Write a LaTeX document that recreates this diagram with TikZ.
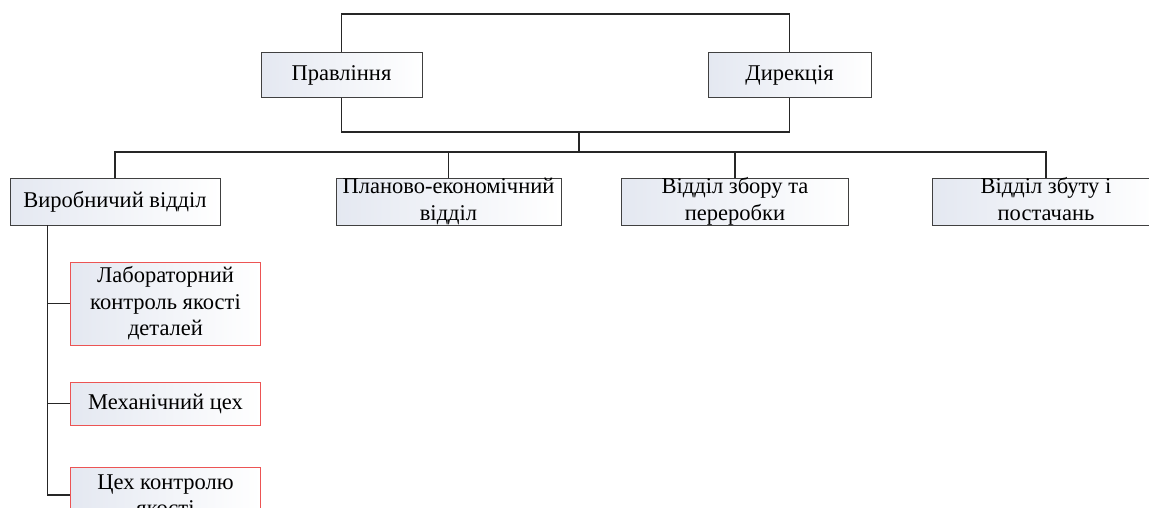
\documentclass[tikz,border=0pt]{standalone}
\usepackage{fontspec}
\setmainfont{Liberation Serif}
\usetikzlibrary{positioning}
\definecolor{boxshade}{RGB}{228,232,241}
\definecolor{redline}{RGB}{236,84,84}

\begin{document}
\begin{tikzpicture}[x=1pt,y=-1pt,
    unit/.style={rectangle, draw=black!75, line width=0.9pt, left color=boxshade, right color=white, minimum height=45pt, align=center, inner sep=0pt, font=\fontsize{22.5}{26.5}\selectfont},
    twoline/.style={unit, minimum height=47pt, inner ysep=-3.5pt},
    subunit/.style={unit, draw=redline, minimum width=190pt},
    link/.style={line width=1.2pt, black!85}
]
    \clip (0,0) rectangle (1149,507);

    % management level
    \node[unit, minimum width=161pt] (board) at (341.5,75) {Правління};
    \node[unit, minimum width=163pt] (direct) at (789.5,75) {Дирекція};

    % departments
    \node[unit, minimum width=210pt, minimum height=47pt] (prod) at (115,201.5) {Виробничий відділ};
    \node[twoline, minimum width=225pt] (plan) at (448.5,201.5) {\strut Планово-економічний\\відділ\strut};
    \node[twoline, minimum width=227pt] (coll) at (735,201.5) {\strut Відділ збору та\\переробки\strut};
    \node[twoline, minimum width=228pt] (sales) at (1046,201.5) {\strut Відділ збуту і\\постачань\strut};

    % production units
    \node[subunit, minimum height=83pt] (lab) at (165.5,303.5) {Лабораторний\\контроль якості\\деталей};
    \node[subunit, minimum height=43pt] (mech) at (165.5,403.5) {Механічний цех};
    \node[subunit, minimum height=56pt] (qc) at (165.5,495) {Цех контролю\\якості};

    \coordinate (hub) at (579,131);
    \coordinate (bus) at (579,152);

    \draw[link] (board.north) -- ++(0,-38) -| (direct.north);
    \draw[link] (board.south) -- ++(0,34) -| (direct.south);
    \draw[link] (hub) -- (bus);
    \foreach \d in {prod,plan,coll,sales}
        \draw[link] (bus) -| (\d.north);
    \foreach \s in {lab,mech,qc}
        \draw[link] ([xshift=38pt]prod.south west) |- (\s.west);
\end{tikzpicture}
\end{document}
